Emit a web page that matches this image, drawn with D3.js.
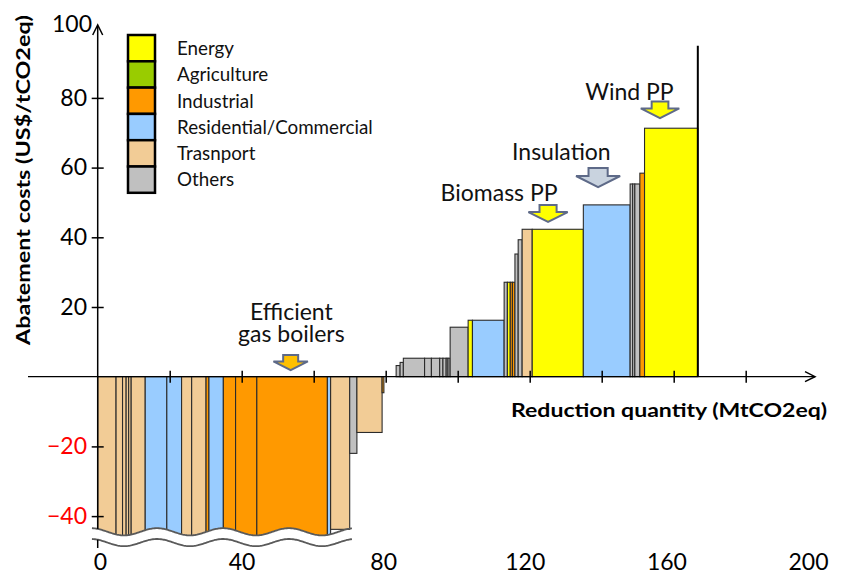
<!DOCTYPE html>
<html><head><meta charset="utf-8">
<script src="https://cdn.jsdelivr.net/npm/d3@7"></script>
<style>body{margin:0;background:#fff} svg{display:block;font-family:Lato,"Open Sans",sans-serif}</style>
</head><body><svg id="c" width="852" height="581"></svg>
<script>
// ---------- DATA ----------
const sectorNames = ["Energy","Agriculture","Industrial","Residential/Commercial","Trasnport","Others"];
const sectorKeys  = ["E","A","I","R","T","O"];
const sectorColors = ["#FFFF00","#99CC00","#FF9900","#99CCFF","#F2CC96","#C0C0C0"];

// measures in merit order: sector, width (MtCO2eq), cost (US$/tCO2eq); -48 = off-scale (cut by break)
const barSector = ["T","T","T","T","T","T","R","R","T","T","I","R","I","I","I","R","T","O","T","I",
                   "O",
                   "O","O","O","O","O","O","O","O","O","O","E","R","O","E","I","I","O","O","T","E","R","O","O","O","I","E"];
const barWidth  = [5.1,1.8,1.0,0.7,0.7,3.9,6.0,4.1,2.8,4.0,0.8,4.0,3.4,5.9,19.6,0.9,5.3,2.0,7.0,0.5,
                   3.4,
                   1.1,0.9,5.9,1.9,2.3,0.9,0.9,0.5,0.6,5.0,1.2,8.8,0.9,0.8,0.6,0.7,0.9,1.1,2.8,14.2,13.0,0.7,0.6,1.4,1.3,14.8];
const barCost   = [-48,-48,-48,-48,-48,-48,-48,-48,-48,-48,-48,-48,-48,-48,-48,-48,-43.8,-22,-16,-4.6,
                   0,
                   3.2,4.1,5.3,5.3,5.3,5.3,5.3,5.3,5.3,14.2,16.2,16.2,27.1,27.1,27.1,27.1,35.2,39.3,42.3,42.3,49.3,55.3,55.3,55.3,58.4,71.3];

const totalPotential = 166.7;   // end of curve
const totalLineTop = 95;

const xTickValues = [20,40,60,80,100,120,140,160,180];
const xLabelValues = [0,40,80,120,160,200];
const yTickValues = [-40,-20,20,40,60,80];
const yLabelValues = [-40,-20,20,40,60,80,100];

// annotations: text lines, text x, text baseline cost, arrow x, arrow top cost, arrow tip cost, arrow fill
const annoText   = [["Efficient","gas boilers"],["Biomass PP"],["Insulation"],["Wind PP"]];
const annoTextX  = [53.8, 111.5, 128.8, 147.7];
const annoTextY  = [16.3, 50.3, 62.1, 79.3];
const annoArrowX = [53.6, 125.1, 139.0, 156.2];
const annoArrowTop = [6.2, 49.3, 59.9, 79.0];
const annoArrowTip = [1.9, 44.4, 54.4, 74.2];
const annoFill = ["#FFC000","#FFFF00","#C9D3DF","#FFFF00"];

const breakX = [-1.6, 70.6];
const breakLevels = [-44.5, -47.6];

// ---------- SCALES ----------
const svg = d3.select("#c");
const x = d3.scaleLinear().domain([0,200]).range([97.7, 817.7]);
const xl = d3.scaleLinear().domain([0,200]).range([100, 808]);
const y = d3.scaleLinear().domain([-40,80]).range([516.1, 97.9]);

// cumulative positions
let acc = 0;
const bars = barWidth.map((w,i)=>{ const b={x0:acc,x1:acc+w,cost:barCost[i],sector:barSector[i]}; acc+=w; return b; });
const colorOf = k => sectorColors[sectorKeys.indexOf(k)];

// wave function for the axis break
const wavePx = (px, base) => base + 3.6*Math.sin(2*Math.PI*(px-157)/66 - Math.PI/2);
const wavePts = (lvl) => d3.range(x(breakX[0]), x(breakX[1])+0.5, 1).map(px => [px, wavePx(px, y(lvl))]);

// clip for off-scale bars (everything above wave 1)
const w1 = wavePts(breakLevels[0]);
svg.append("clipPath").attr("id","brk").append("path")
  .attr("d", d3.line()([[w1[0][0],0], ...w1, [w1[w1.length-1][0],0]]) + "Z");

const barG = svg.append("g");
bars.filter(b=>b.cost!==0).forEach(b=>{
  const r = barG.append("rect")
    .attr("x", x(b.x0)).attr("width", x(b.x1)-x(b.x0))
    .attr("y", Math.min(y(0), y(b.cost))).attr("height", Math.abs(y(b.cost)-y(0)))
    .attr("fill", colorOf(b.sector))
    .attr("stroke", "#2b2b2b").attr("stroke-width", 1.1);
  if (b.cost < breakLevels[0]) r.attr("clip-path","url(#brk)");
});

// break wave lines
[breakLevels[0], breakLevels[1]].forEach(l=>{
  svg.append("path").attr("d", d3.line()(wavePts(l))).attr("fill","none")
    .attr("stroke","#5a5a5a").attr("stroke-width",1.8);
});

// total potential line
svg.append("line").attr("x1",x(totalPotential)).attr("x2",x(totalPotential))
  .attr("y1",y(0)).attr("y2",y(totalLineTop)).attr("stroke","#000").attr("stroke-width",2);

// axes lines
const y0 = y(0);
svg.append("line").attr("x1",28).attr("x2",815).attr("y1",y0).attr("y2",y0).attr("stroke","#000").attr("stroke-width",1.2);
svg.append("path").attr("d",`M805,${y0-5}L815,${y0}L805,${y0+5}`).attr("fill","none").attr("stroke","#000").attr("stroke-width",1.5);
const axX = x(0);
const wTop = wavePx(axX, y(breakLevels[0])), wBot = wavePx(axX, y(breakLevels[1]));
svg.append("line").attr("x1",axX).attr("x2",axX).attr("y1",26).attr("y2",wTop).attr("stroke","#000").attr("stroke-width",1.5);
svg.append("line").attr("x1",axX).attr("x2",axX).attr("y1",wBot).attr("y2",548).attr("stroke","#000").attr("stroke-width",1.5);
svg.append("path").attr("d",`M${axX-5},${35}L${axX},${25}L${axX+5},${35}`).attr("fill","none").attr("stroke","#000").attr("stroke-width",1.5);

// ticks via d3 axes (crossing)
const gxt = svg.append("g").attr("transform",`translate(0,${y0-6})`)
  .call(d3.axisBottom(x).tickValues(xTickValues).tickSize(12).tickFormat(""));
gxt.select(".domain").remove();
gxt.selectAll("line").attr("stroke","#000").attr("stroke-width",1.5);
const gyt = svg.append("g").attr("transform",`translate(${axX-6},0)`)
  .call(d3.axisRight(y).tickValues(yTickValues).tickSize(12).tickFormat(""));
gyt.select(".domain").remove();
gyt.selectAll("line").attr("stroke","#000").attr("stroke-width",1.5);

// tick labels
const gxl = svg.append("g").attr("transform",`translate(0,554)`)
  .call(d3.axisBottom(xl).tickValues(xLabelValues).tickSize(0).tickPadding(0).tickFormat(d3.format("d")));
gxl.select(".domain").remove();
gxl.selectAll("text").attr("font-family","Lato").attr("font-size",23).attr("fill","#000");
const gyl = svg.append("g").attr("transform",`translate(87,0)`)
  .call(d3.axisLeft(y).tickValues(yLabelValues).tickSize(0).tickPadding(0).tickFormat(d3.format("d")));
gyl.select(".domain").remove();
gyl.selectAll("text").attr("font-family","Lato").attr("font-size",23)
  .attr("fill", d=> d<0 ? "#FF0000" : "#000")
  .attr("x", d=> d===100 ? 5 : 0)
  .attr("y", d=> d===100 ? -4 : 0);

// axis titles
svg.append("text").attr("transform","translate(30,345) rotate(-90)")
  .attr("font-family","Lato").attr("font-weight","bold").attr("font-size",19)
  .attr("textLength",330).attr("lengthAdjust","spacingAndGlyphs")
  .text("Abatement costs (US$/tCO2eq)");
svg.append("text").attr("x",511).attr("y",417)
  .attr("font-family","Lato").attr("font-weight","bold").attr("font-size",19)
  .attr("textLength",316).attr("lengthAdjust","spacingAndGlyphs")
  .text("Reduction quantity (MtCO2eq)");

// annotations
annoText.forEach((lines,i)=>{
  lines.forEach((ln,j)=>{
    svg.append("text").attr("text-anchor","middle").attr("font-family","Lato")
      .attr("font-size",23).attr("fill","#111")
      .attr("x",x(annoTextX[i])).attr("y",y(annoTextY[i]) + j*22).text(ln);
  });
  const cx = x(annoArrowX[i]), top = y(annoArrowTop[i]), tip = y(annoArrowTip[i]);
  const h = tip-top, sh = h*0.42, hw = h*1.15, sw = h*0.5;
  svg.append("path")
    .attr("d",`M${cx-sw},${top}L${cx+sw},${top}L${cx+sw},${top+sh}L${cx+hw},${top+sh}L${cx},${tip}L${cx-hw},${top+sh}L${cx-sw},${top+sh}Z`)
    .attr("fill",annoFill[i]).attr("stroke","#5E6A88").attr("stroke-width",2).attr("stroke-linejoin","miter");
});

// legend
const lg = svg.append("g");
const boxH = 26.3;
sectorNames.forEach((n,i)=>{
  lg.append("rect").attr("x",128).attr("y",35+i*boxH).attr("width",27).attr("height",boxH)
    .attr("fill",sectorColors[i]).attr("stroke","#000").attr("stroke-width",2.5);
  lg.append("text").attr("x",177).attr("y",35+i*boxH+boxH/2).attr("dy","0.36em")
    .attr("font-family","Lato").attr("font-size",18.8).attr("fill","#111").text(n);
});
</script></body></html>
